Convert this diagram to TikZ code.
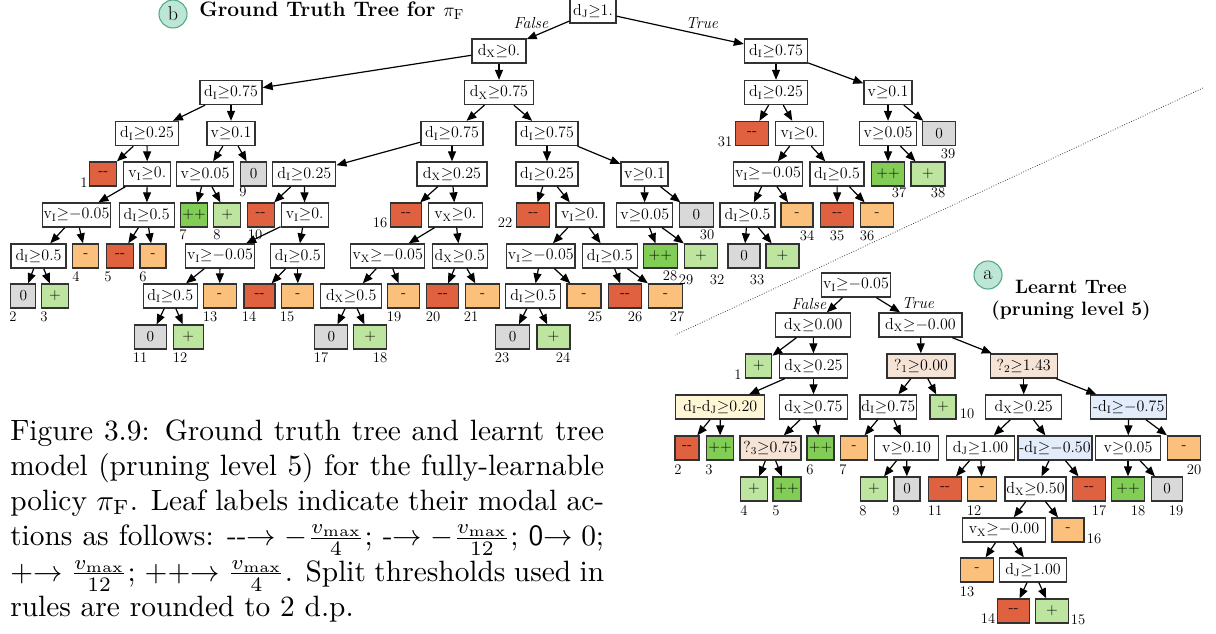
\documentclass[tikz,border=0pt]{standalone}
\usepackage{graphicx}
\usetikzlibrary{arrows.meta}

\definecolor{cRed}{RGB}{224,97,64}
\definecolor{cOrange}{RGB}{252,192,125}
\definecolor{cGray}{RGB}{217,217,217}
\definecolor{cLGreen}{RGB}{190,229,160}
\definecolor{cGreen}{RGB}{130,205,86}
\definecolor{cBeige}{RGB}{245,227,214}
\definecolor{cYellow}{RGB}{255,246,214}
\definecolor{cBlue}{RGB}{227,236,250}
\definecolor{cMint}{RGB}{190,230,214}
\definecolor{cMintD}{RGB}{80,170,130}
\definecolor{cBorder}{RGB}{50,50,50}

% node helpers: name, x, y, width (px), style, text
\newcommand\TN[6]{\node[#5, minimum width=#4*0.75pt] (#1) at (#2,#3) {#6};}
\newcommand\NL[4]{\node[num] (#1) at (#2,#3) {#4};}
\newcommand\Ed[2]{\draw[edge] (#1) -- (#2);}
\newcommand\Cnd[3]{$\mathrm{#1}_{\mathrm{#2}}{\geq}#3$}
\newcommand\Vge[1]{$\mathrm{v}{\geq}#1$}
\newcommand\Lmm{-{}-}

\begin{document}
\begin{tikzpicture}[x=0.75pt,y=-0.75pt,
  font=\fontsize{11.5}{13}\selectfont,
  box/.style={draw=cBorder, line width=1pt, inner xsep=1pt, inner ysep=0pt, minimum height=18pt},
  split/.style={box, fill=white},
  sbeige/.style={box, fill=cBeige},
  syellow/.style={box, fill=cYellow},
  sblue/.style={box, fill=cBlue},
  lmm/.style={box, fill=cRed},
  lm/.style={box, fill=cOrange},
  lz/.style={box, fill=cGray},
  lp/.style={box, fill=cLGreen},
  lpp/.style={box, fill=cGreen},
  edge/.style={line width=0.9pt, -{Triangle[length=7.5pt,width=6pt]}},
  num/.style={inner sep=0pt, font=\fontsize{11}{12}\selectfont},
  elab/.style={inner sep=0pt, font=\itshape\fontsize{12}{13}\selectfont},
  badge/.style={circle, fill=cMint, draw=cMintD, line width=0.8pt, minimum size=21pt, inner sep=0pt, font=\fontsize{15}{15}\selectfont},
  ttl/.style={inner sep=0pt, font=\bfseries\fontsize{14.5}{16.5}\selectfont},
]
\useasboundingbox (0,0) rectangle (1216,633);

% ---------------- ground truth tree ----------------
\node[badge] (cb) at (173,14) {b};
\node[ttl, anchor=base west, font=\bfseries\fontsize{15.7}{18}\selectfont] (tb) at (199,16) {Ground Truth Tree for $\pi_{\mathrm{F}}$};

\TN{t0}{593}{11}{46}{split}{\Cnd{d}{J}{1.}}
\TN{t1}{499}{51}{54}{split}{\Cnd{d}{X}{0.}}
\TN{t2}{776}{51}{63}{split}{\Cnd{d}{I}{0.75}}
\node[elab] (fa) at (531,23) {False};
\node[elab] (tr) at (702,23) {True};

\TN{t3}{231}{92.5}{62}{split}{\Cnd{d}{I}{0.75}}
\TN{t4}{499}{92.5}{69}{split}{\Cnd{d}{X}{0.75}}
\TN{t5}{776}{92.5}{63}{split}{\Cnd{d}{I}{0.25}}
\TN{t6}{888}{92.5}{48}{split}{\Vge{0.1}}

\TN{t7}{147}{133.5}{63}{split}{\Cnd{d}{I}{0.25}}
\TN{t8}{231}{133.5}{48}{split}{\Vge{0.1}}
\TN{t9}{452}{133.5}{62}{split}{\Cnd{d}{I}{0.75}}
\TN{t10}{547}{133.5}{62}{split}{\Cnd{d}{I}{0.75}}
\TN{l31}{752}{133.5}{33}{lmm}{\Lmm}
\TN{t11}{799.5}{133.5}{48}{split}{\Cnd{v}{I}{0.}}
\TN{t12}{888}{133.5}{57}{split}{\Vge{0.05}}
\TN{l39}{939}{133.5}{33}{lz}{0}

\TN{l1}{103.3}{174}{27}{lmm}{\Lmm}
\TN{t13}{147.3}{174}{47}{split}{\Cnd{v}{I}{0.}}
\TN{t14}{205}{174}{57}{split}{\Vge{0.05}}
\TN{l9}{253.7}{174}{26}{lz}{0}
\TN{t15}{304.3}{174}{63}{split}{\Cnd{d}{I}{0.25}}
\TN{t16}{452}{174}{70}{split}{\Cnd{d}{X}{0.25}}
\TN{t17}{547}{174}{62}{split}{\Cnd{d}{I}{0.25}}
\TN{t18}{644.5}{174}{47}{split}{\Vge{0.1}}
\TN{t19}{768}{174}{68}{split}{\Cnd{v}{I}{{-}0.05}}
\TN{t20}{837}{174}{54}{split}{\Cnd{d}{I}{0.5}}
\TN{l37}{888}{174}{33}{lpp}{++}
\TN{l38}{928}{174}{34}{lp}{+}

\TN{t21}{76.5}{215}{65}{split}{\Cnd{v}{I}{{-}0.05}}
\TN{t22}{146.7}{215}{55}{split}{\Cnd{d}{I}{0.5}}
\TN{l7}{194}{215}{27}{lpp}{++}
\TN{l8}{227.3}{215}{27}{lp}{+}
\TN{l10}{260.7}{215}{27}{lmm}{\Lmm}
\TN{t23}{304.7}{215}{47}{split}{\Cnd{v}{I}{0.}}
\TN{l16}{406}{215}{31}{lmm}{\Lmm}
\TN{t24}{455.3}{215}{54}{split}{\Cnd{v}{X}{0.}}
\TN{l22}{533.3}{215}{33}{lmm}{\Lmm}
\TN{t25}{580}{215}{48}{split}{\Cnd{v}{I}{0.}}
\TN{t26}{644.7}{215}{56}{split}{\Vge{0.05}}
\TN{l30}{696.3}{215}{34}{lz}{0}
\TN{t27}{747.5}{215}{55}{split}{\Cnd{d}{I}{0.5}}
\TN{l34}{797}{215}{32}{lm}{-}
\TN{l35}{837.3}{215}{33}{lmm}{\Lmm}
\TN{l36}{877}{215}{33}{lm}{-}

\TN{t28}{38.5}{256}{55}{split}{\Cnd{d}{I}{0.5}}
\TN{l4}{85.8}{256}{26}{lm}{-}
\TN{l5}{120}{256}{27}{lmm}{\Lmm}
\TN{l6}{153}{256}{26}{lm}{-}
\TN{t29}{220}{256}{69}{split}{\Cnd{v}{I}{{-}0.05}}
\TN{t30}{297.8}{256}{54}{split}{\Cnd{d}{I}{0.5}}
\TN{t31}{387.8}{256}{74}{split}{\Cnd{v}{X}{{-}0.05}}
\TN{t32}{459.8}{256}{55}{split}{\Cnd{d}{X}{0.5}}
\TN{t33}{540.8}{256}{68}{split}{\Cnd{v}{I}{{-}0.05}}
\TN{t34}{609.8}{256}{55}{split}{\Cnd{d}{I}{0.5}}
\TN{l28}{660.3}{256}{34}{lpp}{++}
\TN{l29}{701}{256}{33}{lp}{+}
\TN{l32}{744}{256}{32}{lz}{0}
\TN{l33}{782.5}{256}{33}{lp}{+}

\TN{l2}{23.3}{296}{25}{lz}{0}
\TN{l3}{55}{296}{27}{lp}{+}
\TN{t35}{170.3}{296}{54}{split}{\Cnd{d}{I}{0.5}}
\TN{l13}{219.7}{296}{33}{lm}{-}
\TN{l14}{259.5}{296}{31}{lmm}{\Lmm}
\TN{l15}{297.8}{296}{32}{lm}{-}
\TN{t36}{351.2}{296}{61}{split}{\Cnd{d}{X}{0.5}}
\TN{l19}{403.5}{296}{32}{lm}{-}
\TN{l20}{442.8}{296}{32}{lmm}{\Lmm}
\TN{l21}{482.5}{296}{34}{lm}{-}
\TN{t37}{533.2}{296}{55}{split}{\Cnd{d}{I}{0.5}}
\TN{l25}{584}{296}{34}{lm}{-}
\TN{l26}{625}{296}{33}{lmm}{\Lmm}
\TN{l27}{665.5}{296}{34}{lm}{-}

\TN{l11}{150.5}{337}{32}{lz}{0}
\TN{l12}{188.3}{337}{30}{lp}{+}
\TN{l17}{331.3}{337}{33}{lz}{0}
\TN{l18}{370.3}{337}{33}{lp}{+}
\TN{l23}{512.5}{337}{34}{lz}{0}
\TN{l24}{553.5}{337}{33}{lp}{+}

\Ed{t0}{t1} \Ed{t0}{t2}
\Ed{t1}{t3} \Ed{t1}{t4}
\Ed{t3}{t7} \Ed{t3}{t8}
\Ed{t7}{l1} \Ed{t7}{t13}
\Ed{t13}{t21} \Ed{t13}{t22}
\Ed{t21}{t28} \Ed{t21}{l4}
\Ed{t28}{l2} \Ed{t28}{l3}
\Ed{t22}{l5} \Ed{t22}{l6}
\Ed{t8}{t14} \Ed{t8}{l9}
\Ed{t14}{l7} \Ed{t14}{l8}
\Ed{t4}{t9} \Ed{t4}{t10}
\Ed{t9}{t15} \Ed{t9}{t16}
\Ed{t15}{l10} \Ed{t15}{t23}
\Ed{t23}{t29} \Ed{t23}{t30}
\Ed{t29}{t35} \Ed{t29}{l13}
\Ed{t35}{l11} \Ed{t35}{l12}
\Ed{t30}{l14} \Ed{t30}{l15}
\Ed{t16}{l16} \Ed{t16}{t24}
\Ed{t24}{t31} \Ed{t24}{t32}
\Ed{t31}{t36} \Ed{t31}{l19}
\Ed{t36}{l17} \Ed{t36}{l18}
\Ed{t32}{l20} \Ed{t32}{l21}
\Ed{t10}{t17} \Ed{t10}{t18}
\Ed{t17}{l22} \Ed{t17}{t25}
\Ed{t25}{t33} \Ed{t25}{t34}
\Ed{t33}{t37} \Ed{t33}{l25}
\Ed{t37}{l23} \Ed{t37}{l24}
\Ed{t34}{l26} \Ed{t34}{l27}
\Ed{t18}{t26} \Ed{t18}{l30}
\Ed{t26}{l28} \Ed{t26}{l29}
\Ed{t2}{t5} \Ed{t2}{t6}
\Ed{t5}{l31} \Ed{t5}{t11}
\Ed{t11}{t19} \Ed{t11}{t20}
\Ed{t19}{t27} \Ed{t19}{l34}
\Ed{t27}{l32} \Ed{t27}{l33}
\Ed{t20}{l35} \Ed{t20}{l36}
\Ed{t6}{t12} \Ed{t6}{l39}
\Ed{t12}{l37} \Ed{t12}{l38}

% leaf numbers
\NL{n1}{84}{183}{1}
\NL{n9}{243}{192}{9}
\NL{n31}{725}{142}{31}
\NL{n39}{948}{154}{39}
\NL{n37}{899}{193}{37}
\NL{n38}{938}{193}{38}
\NL{n7}{183}{235}{7}
\NL{n8}{217}{235}{8}
\NL{n10}{255}{235}{10}
\NL{n16}{380}{223}{16}
\NL{n22}{505}{223}{22}
\NL{n30}{707}{235}{30}
\NL{n34}{807}{236}{34}
\NL{n35}{837}{236}{35}
\NL{n36}{867}{236}{36}
\NL{n4}{76}{277}{4}
\NL{n5}{108}{277}{5}
\NL{n6}{143}{277}{6}
\NL{n28}{670}{276}{28}
\NL{n29}{686}{280}{29}
\NL{n32}{717}{280}{32}
\NL{n33}{757}{280}{33}
\NL{n2}{13}{317}{2}
\NL{n3}{44}{317}{3}
\NL{n13}{210}{317}{13}
\NL{n14}{249}{317}{14}
\NL{n15}{287}{317}{15}
\NL{n19}{394}{317}{19}
\NL{n20}{433}{317}{20}
\NL{n21}{471}{317}{21}
\NL{n25}{595}{317}{25}
\NL{n26}{635}{317}{26}
\NL{n27}{677}{317}{27}
\NL{n11}{140}{358}{11}
\NL{n12}{180}{358}{12}
\NL{n17}{321}{358}{17}
\NL{n18}{380}{358}{18}
\NL{n23}{502}{358}{23}
\NL{n24}{563}{358}{24}

% separator
\coordinate (s1) at (1203,88);
\coordinate (s2) at (675,335);
\draw[black!75, line width=0.6pt, dash pattern=on 0.6pt off 1.3pt] (s1) -- (s2);

% ---------------- learnt tree ----------------
\node[badge] (ca) at (988,275) {a};
\node[ttl, align=center, anchor=base] (ta) at (1071,315) {Learnt Tree\\(pruning level 5)};

\TN{b0}{856}{285}{69}{split}{\Cnd{v}{I}{{-}0.05}}
\TN{b1}{813.3}{325}{75}{split}{\Cnd{d}{X}{0.00}}
\TN{b2}{920.5}{325}{83}{split}{\Cnd{d}{X}{{-}0.00}}
\node[elab] (fb) at (809,304) {False};
\node[elab] (tb2) at (918,303) {True};

\TN{k1}{758.7}{366}{26}{lp}{+}
\TN{b3}{813.5}{366}{68}{split}{\Cnd{d}{X}{0.25}}
\TN{b4}{921}{366}{68}{sbeige}{$?_{1}{\geq}0.00$}
\TN{b5}{1023.7}{366}{67}{sbeige}{$?_{2}{\geq}1.43$}

\TN{b6}{720.3}{407}{89}{syellow}{$\mathrm{d}_{\mathrm{I}}\mbox{-}\mathrm{d}_{\mathrm{J}}{\geq}0.20$}
\TN{b7}{813.5}{407}{68}{split}{\Cnd{d}{X}{0.75}}
\TN{b8}{888.3}{407}{55}{split}{\Cnd{d}{I}{0.75}}
\TN{k10}{943}{407}{26}{lp}{+}
\TN{b9}{1023.7}{407}{76}{split}{\Cnd{d}{X}{0.25}}
\TN{b10}{1128.8}{407}{76}{sblue}{$\mbox{-}\mathrm{d}_{\mathrm{I}}{\geq}{-}0.75$}

\TN{k2}{687}{448}{24}{lmm}{\Lmm}
\TN{k3}{720}{448}{27}{lpp}{++}
\TN{b11}{770.5}{448}{61}{sbeige}{$?_{3}{\geq}0.75$}
\TN{k6}{820.5}{448}{27}{lpp}{++}
\TN{k7}{854}{448}{27}{lm}{-}
\TN{b12}{906.5}{448}{64}{split}{\Vge{0.10}}
\TN{b13}{980.5}{448}{68}{split}{\Cnd{d}{J}{1.00}}
\TN{b14}{1055}{448}{69}{sblue}{$\mbox{-}\mathrm{d}_{\mathrm{I}}{\geq}{-}0.50$}
\TN{b15}{1128}{448}{65}{split}{\Vge{0.05}}
\TN{k20}{1184}{448}{33}{lm}{-}

\TN{k4}{754}{489}{27}{lp}{+}
\TN{k5}{787}{489}{28}{lpp}{++}
\TN{k8}{874}{489}{27}{lp}{+}
\TN{k9}{907}{489}{26}{lz}{0}
\TN{k11}{945}{489}{33}{lmm}{\Lmm}
\TN{k12}{982}{489}{29}{lm}{-}
\TN{b16}{1035.5}{489}{60}{split}{\Cnd{d}{X}{0.50}}
\TN{k17}{1089}{489}{33}{lmm}{\Lmm}
\TN{k18}{1128}{489}{33}{lpp}{++}
\TN{k19}{1167}{489}{31}{lz}{0}

\TN{b17}{1004}{530}{83}{split}{\Cnd{v}{X}{{-}0.00}}
\TN{k16}{1068}{530}{32}{lm}{-}

\TN{k13}{977}{570}{33}{lm}{-}
\TN{b18}{1033}{570}{67}{split}{\Cnd{d}{J}{1.00}}

\TN{k14}{1013.5}{611}{32}{lmm}{\Lmm}
\TN{k15}{1052}{611}{33}{lp}{+}

\Ed{b0}{b1} \Ed{b0}{b2}
\Ed{b1}{k1} \Ed{b1}{b3}
\Ed{b3}{b6} \Ed{b3}{b7}
\Ed{b6}{k2} \Ed{b6}{k3}
\Ed{b7}{b11} \Ed{b7}{k6}
\Ed{b11}{k4} \Ed{b11}{k5}
\Ed{b2}{b4} \Ed{b2}{b5}
\Ed{b4}{b8} \Ed{b4}{k10}
\Ed{b8}{k7} \Ed{b8}{b12}
\Ed{b12}{k8} \Ed{b12}{k9}
\Ed{b5}{b9} \Ed{b5}{b10}
\Ed{b9}{b13} \Ed{b9}{b14}
\Ed{b13}{k11} \Ed{b13}{k12}
\Ed{b14}{b16} \Ed{b14}{k17}
\Ed{b16}{b17} \Ed{b16}{k16}
\Ed{b17}{k13} \Ed{b17}{b18}
\Ed{b18}{k14} \Ed{b18}{k15}
\Ed{b10}{b15} \Ed{b10}{k20}
\Ed{b15}{k18} \Ed{b15}{k19}

\NL{m1}{738}{375}{1}
\NL{m10}{967}{414}{10}
\NL{m2}{678}{470}{2}
\NL{m3}{709}{470}{3}
\NL{m6}{810}{470}{6}
\NL{m7}{843}{470}{7}
\NL{m20}{1194}{470}{20}
\NL{m4}{744}{511}{4}
\NL{m5}{776}{511}{5}
\NL{m8}{863}{511}{8}
\NL{m9}{896}{511}{9}
\NL{m11}{935}{511}{11}
\NL{m12}{974}{511}{12}
\NL{m17}{1099}{511}{17}
\NL{m18}{1138}{511}{18}
\NL{m19}{1176}{511}{19}
\NL{m16}{1094}{539}{16}
\NL{m13}{967}{592}{13}
\NL{m14}{988}{619}{14}
\NL{m15}{1078}{620}{15}

% ---------------- caption ----------------
\node[anchor=north west, inner sep=0pt] (cap) at (10,419) {\scalebox{2.205}{\parbox[t]{202pt}{\fontsize{10}{12}\selectfont
\hyphenpenalty=10000 \exhyphenpenalty=10000 \tolerance=10000 \lineskiplimit=1pt \lineskip=2pt
Figure 3.9: Ground truth tree and learnt tree\linebreak
model (pruning level 5) for the fully-learnable\linebreak
policy $\pi_{\mathrm{F}}$. Leaf labels indicate their modal ac-\linebreak
tions as follows: \textsf{-{}-}$\rightarrow -\frac{v_{\mathrm{max}}}{4}$; \textsf{-}$\rightarrow -\frac{v_{\mathrm{max}}}{12}$; \textsf{0}$\rightarrow 0$;\linebreak
\textsf{+}$\rightarrow \frac{v_{\mathrm{max}}}{12}$; \textsf{++}$\rightarrow \frac{v_{\mathrm{max}}}{4}$. Split thresholds used in\linebreak
rules are rounded to 2 d.p.}}};
\end{tikzpicture}
\end{document}
